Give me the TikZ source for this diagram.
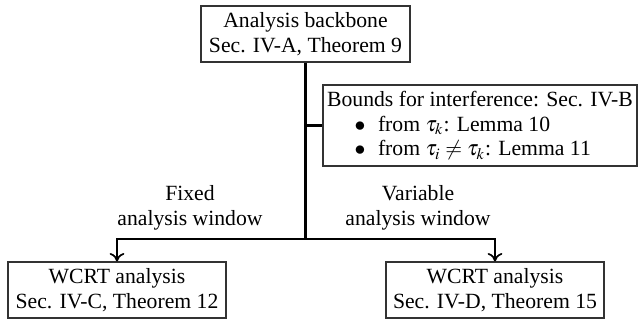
\documentclass[tikz,border=0pt]{standalone}
\usepackage{mathptmx}
\usepackage{fontspec}
\setmainfont{Liberation Serif}
\usetikzlibrary{arrows.meta}
\begin{document}
\begin{tikzpicture}[x=0.475pt,y=-0.475pt,
  box/.style={draw=black!80,line width=0.5pt,align=center,inner sep=0pt,font=\fontsize{10.3}{11.8}\selectfont},
  lbl/.style={align=center,inner sep=0pt,font=\fontsize{10.3}{11.8}\selectfont},
  conn/.style={line width=1.1pt},
  arr/.style={line width=1.1pt,-{To[length=4pt,width=7pt,line width=0.8pt]}}]
\useasboundingbox (0,0) rectangle (642,320);
\node[box,minimum width=209*0.475pt,minimum height=56*0.475pt] (top) at (305.5,34) {Analysis backbone\\Sec. IV-A, Theorem 9};
\node[box,minimum width=314*0.475pt,minimum height=81*0.475pt,align=left] (bnd) at (480,125.5)
 {Bounds for interference: Sec. IV-B\\
  \hspace{13pt}$\bullet$\hspace{6pt}from $\tau_k$: Lemma 10\\
  \hspace{13pt}$\bullet$\hspace{6pt}from $\tau_i\neq\tau_k$: Lemma 11};
\node[box,minimum width=218*0.475pt,minimum height=56*0.475pt] (fix) at (117,290) {WCRT analysis\\Sec. IV-C, Theorem 12};
\node[box,minimum width=218*0.475pt,minimum height=56*0.475pt] (var) at (495,290) {WCRT analysis\\Sec. IV-D, Theorem 15};
\node[lbl] (lf) at (190,208) {Fixed\\analysis window};
\node[lbl] (lv) at (418,208) {Variable\\analysis window};
\coordinate (j) at (305.5,239);
\coordinate (b) at (305.5,125.5);
\draw[conn] (top.south) -- (j);
\draw[conn] (b) -- (bnd.west);
\draw[arr] (j) -| (fix.north);
\draw[arr] (j) -| (var.north);
\end{tikzpicture}
\end{document}
